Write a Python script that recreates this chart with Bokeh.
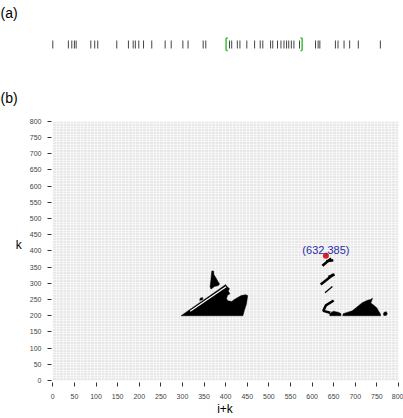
from bokeh.plotting import figure
from bokeh.layouts import column
from bokeh.models import Range1d, FixedTicker, SingleIntervalTicker
from bokeh.embed import file_html
from bokeh.resources import INLINE
from bokeh.core.properties import value

# ---------------- data ----------------
# (a) event positions along the sequence (same scale as i+k)
track_positions = [0, 36, 44, 50, 54, 88, 97, 104, 148, 175, 186, 191, 199, 210, 229,
                   260, 274, 301, 313, 348, 354,
                   409, 414, 427, 433, 449, 467, 480, 486, 504, 509, 520, 528, 535, 541,
                   546, 552, 558, 571,
                   608, 614, 618, 654, 660, 674, 687, 707, 758]
window_start = [401]
window_end = [577]

# (b) axis ticks
x_ticks = [0, 50, 100, 150, 200, 250, 300, 350, 400, 450, 500, 550, 600, 650, 700, 750, 800]
y_ticks = [0, 50, 100, 150, 200, 250, 300, 350, 400, 450, 500, 550, 600, 650, 700, 750, 800]

# (b) filled regions (i+k, k)
region_xs = [
    [297, 440, 443, 448, 451, 446, 436, 428, 420, 414, 405, 402, 404, 410, 406, 409, 403, 400, 385, 370, 355, 345, 330, 315],
    [368, 372, 373, 377, 382, 386, 383, 374, 366, 364, 366, 367],
    [340, 347, 347, 341],
    [641, 667, 667, 662, 655, 650, 645, 641],
    [671, 759, 758, 754, 750, 743, 736, 740, 735, 727, 716, 704, 693, 681, 672],
    [766, 772, 774, 772, 767, 765],
]
region_ys = [
    [200, 200, 215, 235, 262, 265, 262, 256, 250, 244, 246, 252, 262, 268, 276, 283, 290, 296, 282, 268, 254, 245, 231, 217],
    [338, 338, 326, 318, 306, 298, 293, 290, 282, 290, 312, 328],
    [247, 250, 256, 254],
    [200, 200, 206, 210, 212, 214, 211, 206],
    [200, 200, 206, 214, 224, 232, 239, 254, 250, 247, 240, 227, 215, 210, 206],
    [201, 201, 206, 212, 211, 206],
]
# thick diagonal runs
run_xs = [[624, 644], [633, 649], [620, 650], [638, 652], [650, 632, 626, 642]]
run_ys = [[354, 377], [368, 371], [296, 328], [320, 327], [247, 232, 215, 209]]
# thin diagonal runs
thin_xs = [[630, 647]]
thin_ys = [[271, 290]]
# empty gap inside the large region
gap_xs = [[318, 401]]
gap_ys = [[214, 289]]

# highlighted point
point_x = [632]
point_y = [385]
point_label = ["(632,385)"]

FONT = "Liberation Sans"

# ---- layout constants (pixels) ----
W = 403
LEFT, RIGHT = 51, 5
TOP = 22                       # space for the panel letter
HA = 85                        # height of panel (a)
HB = 418 - HA                  # height of panel (b)
BAR_TOP, BAR_BOTTOM = 40, 48   # rows of the event ticks in (a)
PANEL_TOP = 121 - HA           # row of k=800 inside (b)
PANEL_BOTTOM_GAP = 30          # rows below the frame of (b)
Y0 = -6


def style_title(fig, text):
    fig.title.text = text
    fig.title.text_font = FONT
    fig.title.text_font_size = "14px"
    fig.title.text_font_style = "normal"
    fig.title.text_color = "black"
    fig.title.align = "left"
    fig.title.vertical_align = "top"
    fig.title.offset = -LEFT
    fig.title.standoff = 0


# ---------------- (a) ----------------
bar_px = BAR_BOTTOM - BAR_TOP
pa = figure(width=W, height=HA, x_range=Range1d(-3, 800),
            y_range=Range1d(-(HA - BAR_BOTTOM) / bar_px, 1 + (BAR_TOP - TOP) / bar_px),
            output_backend="svg", toolbar_location=None,
            x_axis_location=None, y_axis_location=None,
            min_border_left=LEFT, min_border_right=RIGHT,
            min_border_top=TOP, min_border_bottom=0)
pa.grid.visible = False
pa.outline_line_color = None
style_title(pa, "(a)")
pa.segment(x0=track_positions, x1=track_positions, y0=0, y1=1,
           line_color="#444444", line_width=1)
for xs, d in ((window_start, 1), (window_end, -1)):
    pa.segment(x0=xs, x1=xs, y0=-0.25, y1=1.3, line_color="#3cbf3c", line_width=1.5)
    pa.segment(x0=xs, x1=[v + d * 4 for v in xs], y0=-0.25, y1=-0.25, line_color="#3cbf3c", line_width=1.5)
    pa.segment(x0=xs, x1=[v + d * 4 for v in xs], y0=1.3, y1=1.3, line_color="#3cbf3c", line_width=1.5)

# ---------------- (b) ----------------
frame_h = HB - TOP - PANEL_BOTTOM_GAP
panel_h = frame_h - (PANEL_TOP - TOP)
ky = panel_h / (800 - Y0)                      # pixels per unit of k
p = figure(width=W, height=HB, x_range=Range1d(-3, 800),
           y_range=Range1d(Y0, 800 + (PANEL_TOP - TOP) / ky),
           output_backend="svg", toolbar_location=None,
           min_border_left=LEFT, min_border_right=RIGHT,
           min_border_top=TOP, min_border_bottom=PANEL_BOTTOM_GAP)
p.outline_line_color = None
style_title(p, "(b)")

p.quad(left=[0], right=[800], bottom=[0], top=[800], fill_color="#e8e8e8",
       line_color=None, level="image")
p.xgrid.ticker = SingleIntervalTicker(interval=8)
p.ygrid.ticker = SingleIntervalTicker(interval=8)
p.grid.grid_line_color = "white"
p.grid.grid_line_width = 0.6
p.grid.grid_line_alpha = 0.9

p.patches(xs=region_xs, ys=region_ys, fill_color="black", line_color="black", line_width=0.5)
p.multi_line(xs=run_xs, ys=run_ys, line_color="black", line_width=2.5)
p.multi_line(xs=thin_xs, ys=thin_ys, line_color="black", line_width=1.3)
p.multi_line(xs=gap_xs, ys=gap_ys, line_color="white", line_width=1.2)

p.scatter(x=point_x, y=point_y, size=6, fill_color="#e0201e", line_color=None)
p.text(x=point_x, y=point_y, text=point_label, text_align="center",
       text_baseline="alphabetic", y_offset=-6, text_color="#2d2da8",
       text_font=value(FONT), text_font_size="11px")

for ax in (p.xaxis[0], p.yaxis[0]):
    ax.axis_line_color = None
    ax.major_tick_in = 0
    ax.major_tick_out = 4
    ax.minor_tick_out = 0
    ax.minor_tick_in = 0
    ax.major_tick_line_color = "#333333"
    ax.major_label_text_font = FONT
    ax.major_label_text_font_size = "7px"
    ax.major_label_text_color = "#444444"
    ax.axis_label_text_font = FONT
    ax.axis_label_text_font_size = "12px"
    ax.axis_label_text_font_style = "normal"
    ax.axis_label_text_color = "black"

p.xaxis.ticker = FixedTicker(ticks=x_ticks)
p.yaxis.ticker = FixedTicker(ticks=y_ticks)
p.xaxis.axis_label = "i+k"
p.yaxis.axis_label = "k"
p.xaxis.major_label_standoff = 7
p.xaxis.axis_label_standoff = 0
p.yaxis.major_label_standoff = 6
p.yaxis.axis_label_standoff = 5
p.yaxis.axis_label_orientation = "horizontal"

layout = column(pa, p, spacing=0)
open("out.html", "w").write(file_html(layout, INLINE))
